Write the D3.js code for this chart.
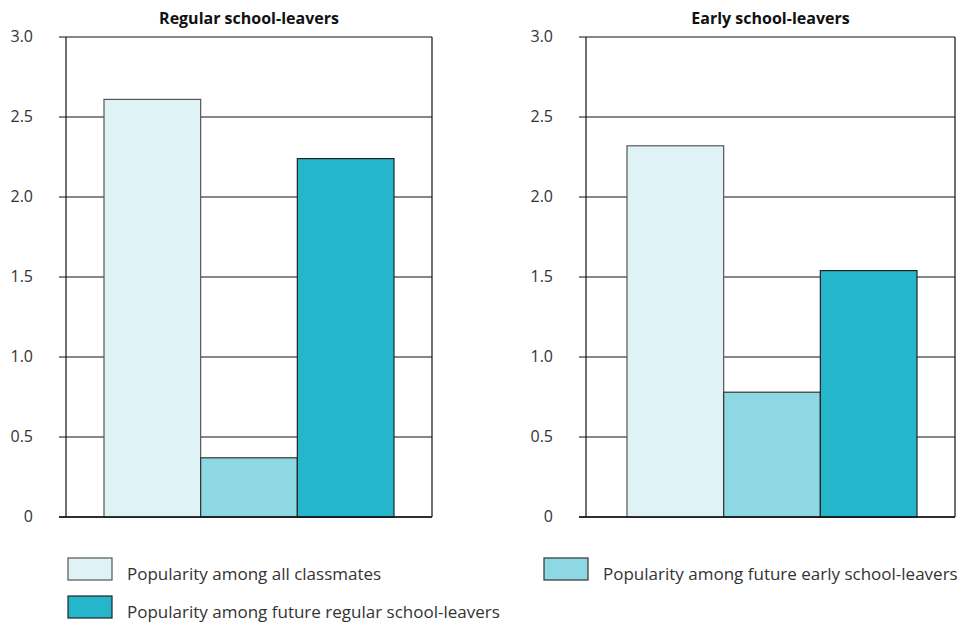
<!DOCTYPE html>
<html><head><meta charset="utf-8">
<script src="https://cdn.jsdelivr.net/npm/d3@7"></script>
<style>body{margin:0;background:#fff}svg{display:block}</style>
</head><body>
<svg id="c" width="970" height="625"></svg>
<script>
const panels = ["Regular school-leavers", "Early school-leavers"];
const seriesNames = ["Popularity among all classmates", "Popularity among future early school-leavers", "Popularity among future regular school-leavers"];
const valuesRegular = [2.61, 0.37, 2.24];
const valuesEarly = [2.32, 0.78, 1.54];
const yTicks = [0, 0.5, 1.0, 1.5, 2.0, 2.5, 3.0];
const tickLabels = ["0", "0.5", "1.0", "1.5", "2.0", "2.5", "3.0"];
const colors = ["#dff3f7", "#8ed8e4", "#26b6cc"];
const strokes = ["#555", "#333", "#222"];

const svg = d3.select("#c");
const font = "'Open Sans', 'Noto Sans', sans-serif";
const y = d3.scaleLinear().domain([0, 3]).range([517, 37]);

const layouts = [
  {x0: 66, x1: 432, b0: 104, b1: 394, vals: valuesRegular},
  {x0: 586, x1: 955, b0: 627, b1: 917, vals: valuesEarly}
];

layouts.forEach((L, i) => {
  const g = svg.append("g");
  g.selectAll("line.grid").data(yTicks).join("line")
    .attr("x1", L.x0 - 7).attr("x2", L.x1)
    .attr("y1", d => y(d)).attr("y2", d => y(d))
    .attr("stroke", "#111").attr("stroke-width", 1.2);
  g.selectAll("text.tick").data(yTicks).join("text")
    .attr("x", L.x0 - 33).attr("y", d => y(d)).attr("dy", "0.32em")
    .attr("text-anchor", "end").attr("font-family", font).attr("font-size", 16)
    .attr("fill", "#333").text((d, j) => tickLabels[j]);
  const xb = d3.scaleBand().domain(d3.range(3)).range([L.b0, L.b1]).padding(0);
  g.selectAll("rect.bar").data(L.vals).join("rect")
    .attr("x", (d, j) => xb(j)).attr("width", xb.bandwidth())
    .attr("y", d => y(d)).attr("height", d => y(0) - y(d))
    .attr("fill", (d, j) => colors[j]).attr("stroke", (d, j) => strokes[j]).attr("stroke-width", 1.2);
  g.append("line").attr("x1", L.x0).attr("x2", L.x0).attr("y1", y(3)).attr("y2", y(0)).attr("stroke", "#111").attr("stroke-width", 1.2);
  g.append("line").attr("x1", L.x1).attr("x2", L.x1).attr("y1", y(3)).attr("y2", y(0)).attr("stroke", "#111").attr("stroke-width", 1.2);
  g.append("line").attr("x1", L.x0 - 7).attr("x2", L.x1).attr("y1", y(0)).attr("y2", y(0)).attr("stroke", "#111").attr("stroke-width", 1.6);
  g.append("text").attr("x", (L.x0 + L.x1) / 2).attr("y", 24).attr("text-anchor", "middle")
    .attr("font-family", font).attr("font-weight", "bold").attr("font-size", 16).attr("fill", "#111")
    .text(panels[i]);
});

const legend = [
  {idx: 0, x: 68, y: 558},
  {idx: 2, x: 68, y: 596},
  {idx: 1, x: 544, y: 558}
];
const lg = svg.append("g");
lg.selectAll("rect").data(legend).join("rect")
  .attr("x", d => d.x).attr("y", d => d.y).attr("width", 44).attr("height", 22)
  .attr("fill", d => colors[d.idx]).attr("stroke", d => strokes[d.idx]).attr("stroke-width", 1.2);
lg.selectAll("text").data(legend).join("text")
  .attr("x", d => d.x + 59).attr("y", d => d.y + 22)
  .attr("font-family", font).attr("font-size", 17).attr("fill", "#333")
  .text(d => seriesNames[d.idx]);
</script>
</body></html>
